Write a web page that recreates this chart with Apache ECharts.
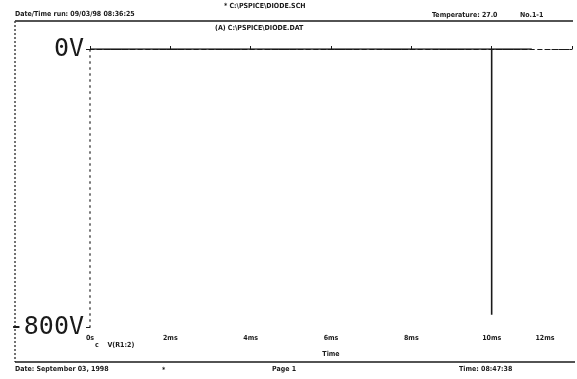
<!DOCTYPE html>
<html>
<head>
<meta charset="utf-8">
<script src="https://cdn.jsdelivr.net/npm/echarts@6/dist/echarts.min.js"></script>
<style>
  html, body { margin: 0; padding: 0; background: #fff; }
  #chart { width: 577px; height: 379px; }
</style>
</head>
<body>
<div id="chart"></div>
<script>
// trace V(R1:2), time in ms
const timeMs = [0, 10, 10, 10, 11];
const volts = [0, 0, -765, 0, 0];
const xTickLabels = ['0s', '2ms', '4ms', '6ms', '8ms', '10ms', '12ms'];
const yTickLabels = { '-800': '-800V', '0': '0V' };

const ink = '#1a1a1a';
const small = { fontFamily: 'DejaVu Sans Condensed', fontWeight: 'bold', fontSize: 7, fill: ink };

const chart = echarts.init(document.getElementById('chart'));

const option = {
  backgroundColor: '#fff',
  animation: false,
  grid: { left: 90, right: 5, top: 49, bottom: 52, containLabel: false, outerBoundsMode: 'none' },
  xAxis: [
    {
      type: 'value', min: 0, max: 12, interval: 2,
      axisLine: { lineStyle: { color: ink, type: [3, 4], width: 1.2 } },
      axisTick: { show: true, length: -3, lineStyle: { color: ink } },
      axisLabel: {
        color: ink, fontSize: 7, fontWeight: 'bold', fontFamily: 'DejaVu Sans Condensed',
        margin: 8, alignMaxLabel: 'right', padding: [0, 0, 0, 0],
        formatter: v => v === 12 ? xTickLabels[6] + '        ' : xTickLabels[Math.round(v / 2)]
      },
      splitLine: { show: false },
      name: 'Time', nameLocation: 'middle', nameGap: 24,
      nameTextStyle: { color: ink, fontSize: 7, fontWeight: 'bold', fontFamily: 'DejaVu Sans Condensed' }
    },
    {
      type: 'value', min: 0, max: 12, position: 'top',
      axisLine: { lineStyle: { color: ink, type: [4, 4], width: 1.2 } },
      axisTick: { show: false }, axisLabel: { show: false }, splitLine: { show: false }
    }
  ],
  yAxis: [
    {
      type: 'value', min: -800, max: 0, interval: 800,
      axisLine: { show: true, lineStyle: { color: '#555', type: [1, 5], width: 1.5 } },
      axisTick: { show: true, length: 4, lineStyle: { color: ink } },
      axisLabel: {
        color: ink, fontSize: 25, fontFamily: 'DejaVu Sans Mono', margin: 6,
        formatter: v => yTickLabels[String(v)]
      },
      splitLine: { show: false }
    },
    {
      type: 'value', min: -800, max: 0, position: 'right',
      axisLine: { show: true, lineStyle: { color: '#777', type: [1, 5], width: 1.5 } },
      axisTick: { show: false }, axisLabel: { show: false }, splitLine: { show: false }
    }
  ],
  series: [
    {
      type: 'line',
      name: 'V(R1:2)',
      data: timeMs.map((t, i) => [t, volts[i]]),
      symbol: 'none',
      lineStyle: { color: ink, width: 1.6 }
    }
  ],
  graphic: [
    // page frame
    { type: 'line', shape: { x1: 15, y1: 21, x2: 573, y2: 21 }, style: { stroke: ink, lineWidth: 1.5 } },
    { type: 'line', shape: { x1: 15, y1: 21, x2: 15, y2: 362 }, style: { stroke: '#444', lineWidth: 1.5, lineDash: [2, 2] } },
    { type: 'line', shape: { x1: 15, y1: 362, x2: 575, y2: 362 }, style: { stroke: ink, lineWidth: 1.5 } },
    // header
    { type: 'text', left: 15, top: 11, style: Object.assign({ text: 'Date/Time run: 09/03/98 08:36:25' }, small) },
    { type: 'text', left: 224, top: 3, style: Object.assign({ text: '* C:\\PSPICE\\DIODE.SCH' }, small) },
    { type: 'text', left: 215, top: 25, style: Object.assign({ text: '(A) C:\\PSPICE\\DIODE.DAT' }, small) },
    { type: 'text', left: 432, top: 12, style: Object.assign({ text: 'Temperature: 27.0' }, small) },
    { type: 'text', left: 520, top: 12, style: Object.assign({ text: 'No.1-1' }, small) },
    // legend
    { type: 'text', left: 95, top: 342, style: Object.assign({ text: 'c    V(R1:2)' }, small) },
    // footer
    { type: 'text', left: 15, top: 366, style: Object.assign({ text: 'Date: September 03, 1998' }, small) },
    { type: 'text', left: 162, top: 367, style: Object.assign({ text: '*' }, small) },
    { type: 'text', left: 272, top: 366, style: Object.assign({ text: 'Page 1' }, small) },
    { type: 'text', left: 459, top: 366, style: Object.assign({ text: 'Time: 08:47:38' }, small) }
  ]
};

chart.setOption(option);
</script>
</body>
</html>
